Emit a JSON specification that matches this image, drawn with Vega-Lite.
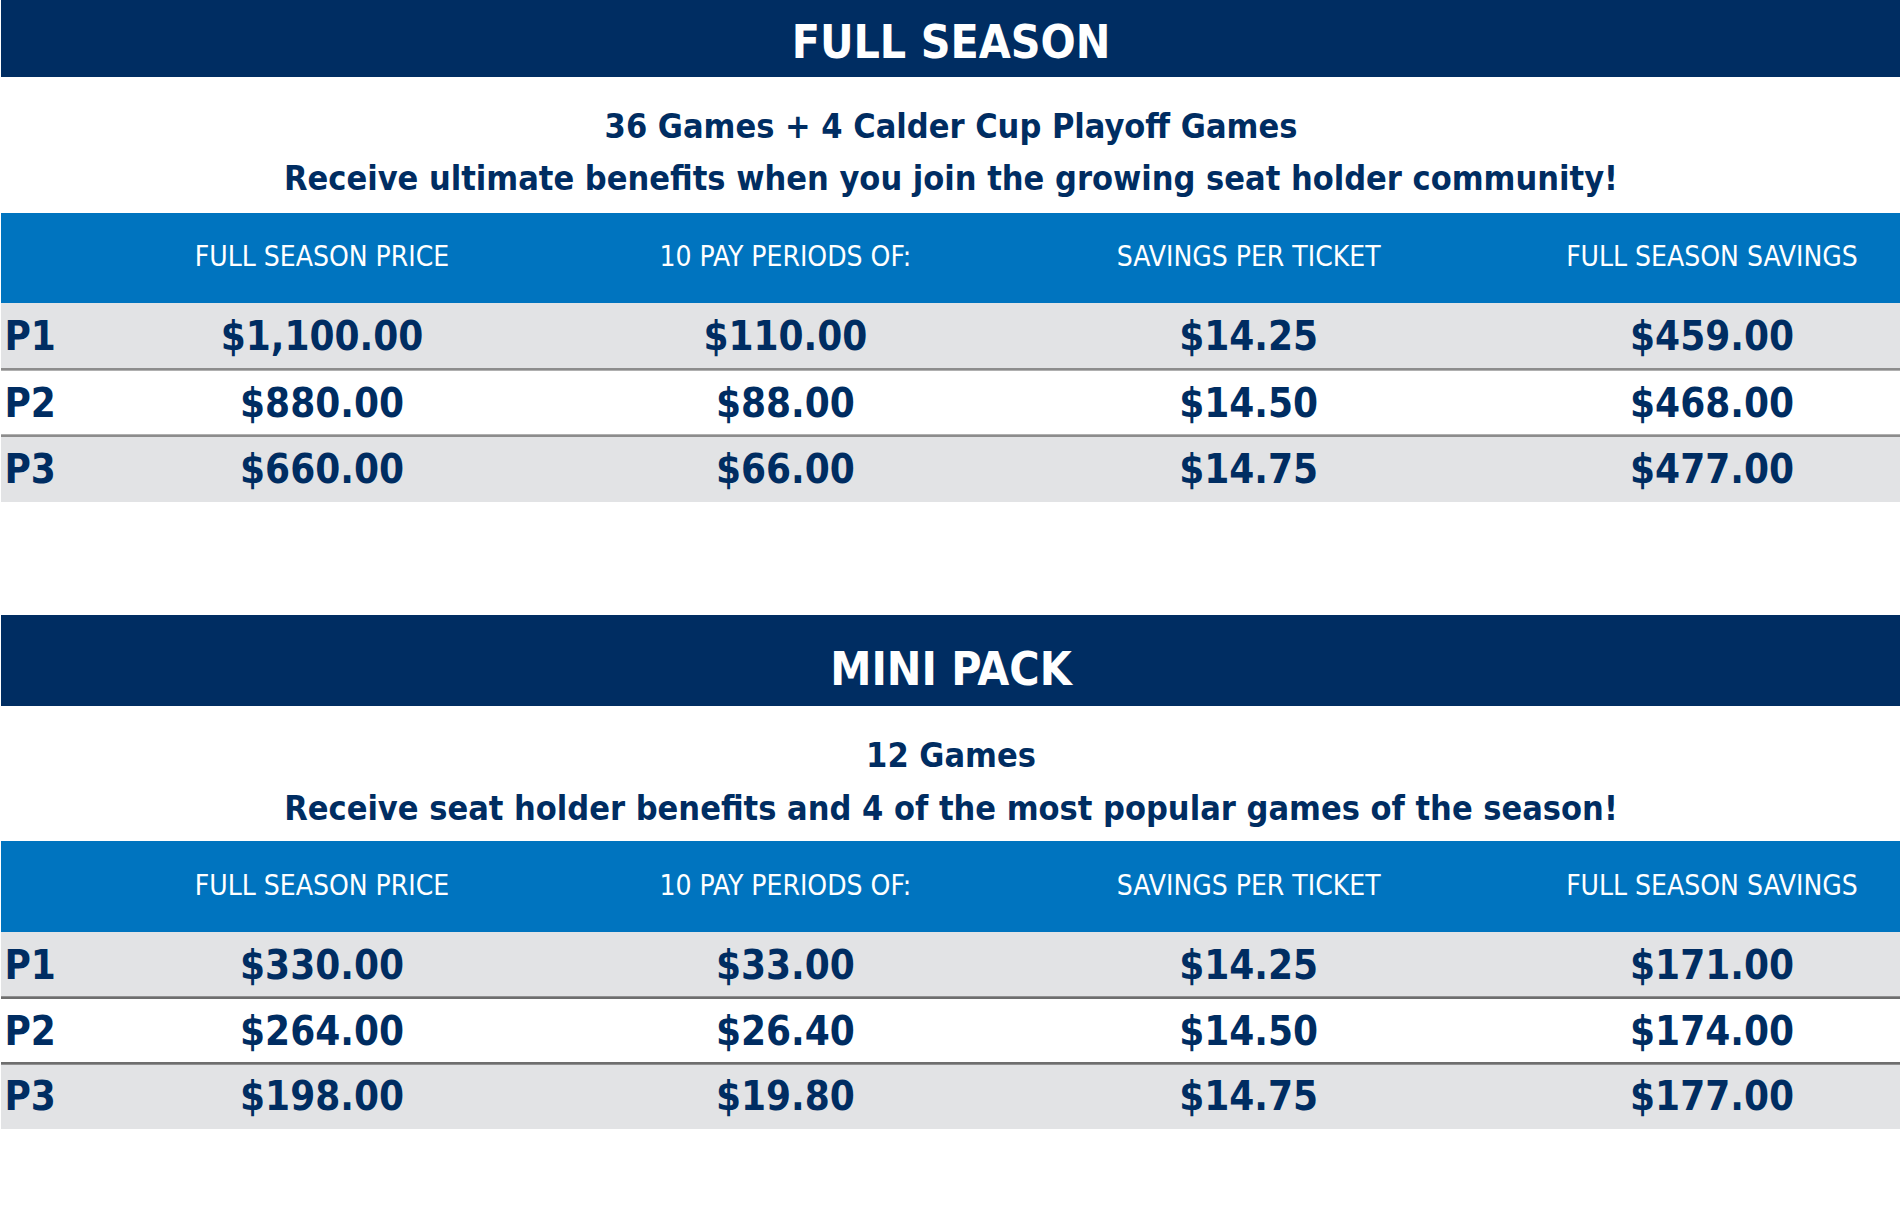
{
  "$schema": "https://vega.github.io/schema/vega-lite/v6.json",
  "padding": 0,
  "background": "white",
  "spacing": 0,
  "bounds": "flush",
  "config": {"view": {"stroke": null}},
  "datasets": {
    "titles": [
      {"pack": "full", "title": "FULL SEASON"},
      {"pack": "mini", "title": "MINI PACK"}
    ],
    "subtitles": [
      {"pack": "full", "line": 1, "text": "36 Games + 4 Calder Cup Playoff Games"},
      {"pack": "full", "line": 2, "text": "Receive ultimate benefits when you join the growing seat holder community!"},
      {"pack": "mini", "line": 1, "text": "12 Games"},
      {"pack": "mini", "line": 2, "text": "Receive seat holder benefits and 4 of the most popular games of the season!"}
    ],
    "headers": [
      {"col": "FULL SEASON PRICE"},
      {"col": "10 PAY PERIODS OF:"},
      {"col": "SAVINGS PER TICKET"},
      {"col": "FULL SEASON SAVINGS"}
    ],
    "prices": [
      {"pack": "full", "tier": "P1", "col": "FULL SEASON PRICE", "value": 1100},
      {"pack": "full", "tier": "P1", "col": "10 PAY PERIODS OF:", "value": 110},
      {"pack": "full", "tier": "P1", "col": "SAVINGS PER TICKET", "value": 14.25},
      {"pack": "full", "tier": "P1", "col": "FULL SEASON SAVINGS", "value": 459},
      {"pack": "full", "tier": "P2", "col": "FULL SEASON PRICE", "value": 880},
      {"pack": "full", "tier": "P2", "col": "10 PAY PERIODS OF:", "value": 88},
      {"pack": "full", "tier": "P2", "col": "SAVINGS PER TICKET", "value": 14.5},
      {"pack": "full", "tier": "P2", "col": "FULL SEASON SAVINGS", "value": 468},
      {"pack": "full", "tier": "P3", "col": "FULL SEASON PRICE", "value": 660},
      {"pack": "full", "tier": "P3", "col": "10 PAY PERIODS OF:", "value": 66},
      {"pack": "full", "tier": "P3", "col": "SAVINGS PER TICKET", "value": 14.75},
      {"pack": "full", "tier": "P3", "col": "FULL SEASON SAVINGS", "value": 477},
      {"pack": "mini", "tier": "P1", "col": "FULL SEASON PRICE", "value": 330},
      {"pack": "mini", "tier": "P1", "col": "10 PAY PERIODS OF:", "value": 33},
      {"pack": "mini", "tier": "P1", "col": "SAVINGS PER TICKET", "value": 14.25},
      {"pack": "mini", "tier": "P1", "col": "FULL SEASON SAVINGS", "value": 171},
      {"pack": "mini", "tier": "P2", "col": "FULL SEASON PRICE", "value": 264},
      {"pack": "mini", "tier": "P2", "col": "10 PAY PERIODS OF:", "value": 26.4},
      {"pack": "mini", "tier": "P2", "col": "SAVINGS PER TICKET", "value": 14.5},
      {"pack": "mini", "tier": "P2", "col": "FULL SEASON SAVINGS", "value": 174},
      {"pack": "mini", "tier": "P3", "col": "FULL SEASON PRICE", "value": 198},
      {"pack": "mini", "tier": "P3", "col": "10 PAY PERIODS OF:", "value": 19.8},
      {"pack": "mini", "tier": "P3", "col": "SAVINGS PER TICKET", "value": 14.75},
      {"pack": "mini", "tier": "P3", "col": "FULL SEASON SAVINGS", "value": 177}
    ]
  },
  "vconcat": [
    {
      "width": 1900, "height": 77,
      "view": {"fill": "#002d62", "stroke": null},
      "data": {"name": "titles"},
      "transform": [{"filter": "datum.pack === 'full'"}],
      "mark": {"type": "text", "font": "DejaVu Sans Condensed", "fontWeight": "bold", "fontSize": 46, "color": "white", "align": "center", "baseline": "alphabetic"},
      "encoding": {
        "x": {"datum": 0.5, "type": "quantitative", "scale": {"domain": [0, 1], "nice": false, "zero": false}, "axis": null},
        "y": {"datum": 0.25, "type": "quantitative", "scale": {"domain": [0, 1], "nice": false, "zero": false}, "axis": null},
        "text": {"field": "title"}
      }
    },
    {
      "width": 1900, "height": 136,
      "data": {"name": "subtitles"},
      "transform": [{"filter": "datum.pack === 'full'"}],
      "mark": {"type": "text", "font": "DejaVu Sans Condensed", "fontWeight": "bold", "fontSize": 34, "color": "#002d62", "align": "center", "baseline": "alphabetic"},
      "encoding": {
        "x": {"datum": 0.5, "type": "quantitative", "scale": {"domain": [0, 1], "nice": false, "zero": false}, "axis": null},
        "y": {"field": "line", "type": "ordinal", "scale": {"type": "point", "range": [61, 113], "padding": 0}, "axis": null},
        "text": {"field": "text"}
      }
    },
    {
      "width": 1900, "height": 90,
      "view": {"fill": "#0074bf", "stroke": null},
      "data": {"name": "headers"},
      "mark": {"type": "text", "font": "DejaVu Sans Condensed", "fontSize": 28, "color": "white", "align": "center", "baseline": "middle"},
      "encoding": {
        "x": {"field": "col", "type": "nominal", "sort": null, "scale": {"type": "point", "range": [321, 1711], "padding": 0}, "axis": null},
        "y": {"datum": 0.5, "type": "quantitative", "scale": {"domain": [0, 1], "nice": false, "zero": false}, "axis": null},
        "text": {"field": "col"}
      }
    },
    {
      "width": 1900, "height": 312,
      "data": {"name": "prices"},
      "transform": [{"filter": "datum.pack === 'full'"}],
      "encoding": {
        "y": {"field": "tier", "type": "nominal", "scale": {"type": "band", "domain": ["P1", "P2", "P3"], "range": [0, 199], "paddingInner": 0, "paddingOuter": 0},
          "axis": {"orient": "left", "title": null, "domain": false, "ticks": false, "tickSize": 0, "grid": false, "labelAlign": "left", "labelPadding": -3, "labelBaseline": "middle", "labelFont": "DejaVu Sans Condensed", "labelFontWeight": "bold", "labelFontSize": 40, "labelColor": "#002d62", "labelOffset": 2}}
      },
      "layer": [
        {
          "mark": {"type": "rect"},
          "encoding": {
            "color": {"condition": {"test": "datum.tier === 'P2'", "value": "#ffffff"}, "value": "#e2e3e5"}
          }
        },
        {
          "transform": [{"filter": "datum.tier !== 'P1'"}],
          "mark": {"type": "rule", "color": "#8c8c8c", "strokeWidth": 2},
          "encoding": {"y": {"field": "tier", "type": "nominal", "bandPosition": 0}}
        },
        {
          "mark": {"type": "text", "font": "DejaVu Sans Condensed", "fontWeight": "bold", "fontSize": 40, "color": "#002d62", "align": "center", "baseline": "middle", "dy": 2},
          "encoding": {
            "x": {"field": "col", "type": "nominal", "sort": null, "scale": {"type": "point", "domain": ["FULL SEASON PRICE", "10 PAY PERIODS OF:", "SAVINGS PER TICKET", "FULL SEASON SAVINGS"], "range": [321, 1711], "padding": 0}, "axis": null},
            "text": {"field": "value", "type": "quantitative", "format": "$,.2f"}
          }
        }
      ]
    },
    {
      "width": 1900, "height": 91,
      "view": {"fill": "#002d62", "stroke": null},
      "data": {"name": "titles"},
      "transform": [{"filter": "datum.pack === 'mini'"}],
      "mark": {"type": "text", "font": "DejaVu Sans Condensed", "fontWeight": "bold", "fontSize": 46, "color": "white", "align": "center", "baseline": "alphabetic"},
      "encoding": {
        "x": {"datum": 0.5, "type": "quantitative", "scale": {"domain": [0, 1], "nice": false, "zero": false}, "axis": null},
        "y": {"datum": 0.23, "type": "quantitative", "scale": {"domain": [0, 1], "nice": false, "zero": false}, "axis": null},
        "text": {"field": "title"}
      }
    },
    {
      "width": 1900, "height": 135,
      "data": {"name": "subtitles"},
      "transform": [{"filter": "datum.pack === 'mini'"}],
      "mark": {"type": "text", "font": "DejaVu Sans Condensed", "fontWeight": "bold", "fontSize": 34, "color": "#002d62", "align": "center", "baseline": "alphabetic"},
      "encoding": {
        "x": {"datum": 0.5, "type": "quantitative", "scale": {"domain": [0, 1], "nice": false, "zero": false}, "axis": null},
        "y": {"field": "line", "type": "ordinal", "scale": {"type": "point", "range": [61, 114], "padding": 0}, "axis": null},
        "text": {"field": "text"}
      }
    },
    {
      "width": 1900, "height": 91,
      "view": {"fill": "#0074bf", "stroke": null},
      "data": {"name": "headers"},
      "mark": {"type": "text", "font": "DejaVu Sans Condensed", "fontSize": 28, "color": "white", "align": "center", "baseline": "middle"},
      "encoding": {
        "x": {"field": "col", "type": "nominal", "sort": null, "scale": {"type": "point", "range": [321, 1711], "padding": 0}, "axis": null},
        "y": {"datum": 0.5, "type": "quantitative", "scale": {"domain": [0, 1], "nice": false, "zero": false}, "axis": null},
        "text": {"field": "col"}
      }
    },
    {
      "width": 1900, "height": 197,
      "data": {"name": "prices"},
      "transform": [{"filter": "datum.pack === 'mini'"}],
      "encoding": {
        "y": {"field": "tier", "type": "nominal", "scale": {"type": "band", "domain": ["P1", "P2", "P3"], "range": [0, 197], "paddingInner": 0, "paddingOuter": 0},
          "axis": {"orient": "left", "title": null, "domain": false, "ticks": false, "tickSize": 0, "grid": false, "labelAlign": "left", "labelPadding": -3, "labelBaseline": "middle", "labelFont": "DejaVu Sans Condensed", "labelFontWeight": "bold", "labelFontSize": 40, "labelColor": "#002d62", "labelOffset": 2}}
      },
      "layer": [
        {
          "mark": {"type": "rect"},
          "encoding": {
            "color": {"condition": {"test": "datum.tier === 'P2'", "value": "#ffffff"}, "value": "#e2e3e5"}
          }
        },
        {
          "transform": [{"filter": "datum.tier !== 'P1'"}],
          "mark": {"type": "rule", "color": "#6e6e6e", "strokeWidth": 2},
          "encoding": {"y": {"field": "tier", "type": "nominal", "bandPosition": 0}}
        },
        {
          "mark": {"type": "text", "font": "DejaVu Sans Condensed", "fontWeight": "bold", "fontSize": 40, "color": "#002d62", "align": "center", "baseline": "middle", "dy": 2},
          "encoding": {
            "x": {"field": "col", "type": "nominal", "sort": null, "scale": {"type": "point", "domain": ["FULL SEASON PRICE", "10 PAY PERIODS OF:", "SAVINGS PER TICKET", "FULL SEASON SAVINGS"], "range": [321, 1711], "padding": 0}, "axis": null},
            "text": {"field": "value", "type": "quantitative", "format": "$,.2f"}
          }
        }
      ]
    }
  ]
}
